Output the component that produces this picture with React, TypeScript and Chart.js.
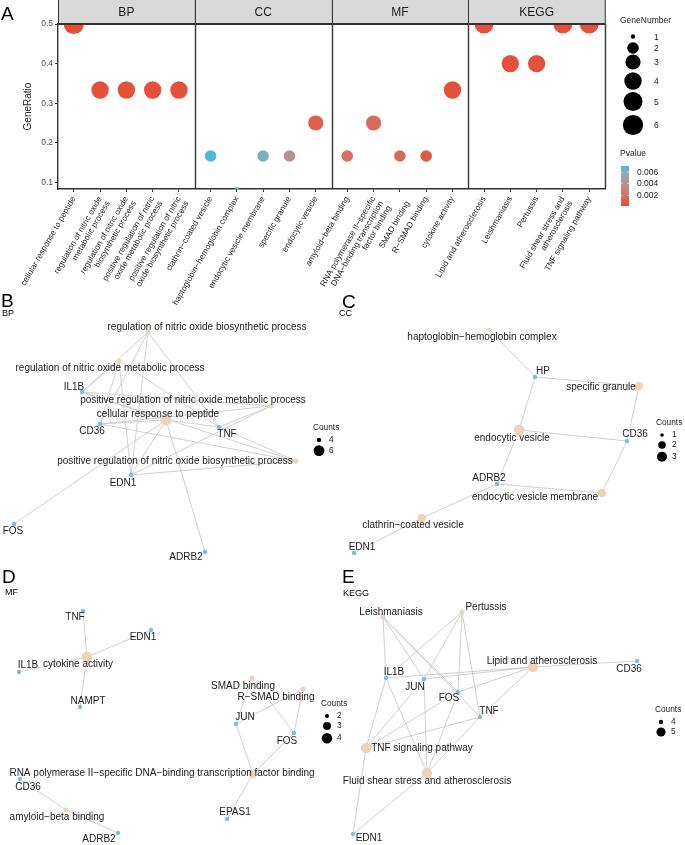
import React, { useEffect, useRef } from "react";
import { Chart, registerables } from "chart.js";
Chart.register(...registerables);

const FONT = "'Liberation Sans', Arial, Helvetica, sans-serif";
const TXT = "#1A1A1A";

// ---------------- Panel A data ----------------
const facetNames = ["BP", "CC", "MF", "KEGG"];
const termLabels: (string | string[])[] = [
  "cellular response to peptide",
  ["regulation of nitric oxide", "metabolic process"],
  ["regulation of nitric oxide", "biosynthetic process"],
  ["positive regulation of nitric", "oxide metabolic process"],
  ["positive regulation of nitric", "oxide biosynthetic process"],
  "clathrin\u2212coated vesicle",
  "haptoglobin\u2212hemoglobin complex",
  "endocytic vesicle membrane",
  "specific granule",
  "endocytic vesicle",
  "amyloid\u2212beta binding",
  ["RNA polymerase II\u2212specific", "DNA\u2212binding transcription", "factor binding"],
  ["", "SMAD binding"],
  "R\u2212SMAD binding",
  "cytokine activity",
  "Lipid and atherosclerosis",
  "Leishmaniasis",
  "Pertussis",
  ["Fluid shear stress and", "atherosclerosis"],
  "TNF signaling pathway",
];
const termFacet = [0, 0, 0, 0, 0, 1, 1, 1, 1, 1, 2, 2, 2, 2, 2, 3, 3, 3, 3, 3];
const geneRatio = [0.5, 0.3333, 0.3333, 0.3333, 0.3333, 0.1667, 0.0833, 0.1667, 0.1667, 0.25, 0.1667, 0.25, 0.1667, 0.1667, 0.3333, 0.5, 0.4, 0.4, 0.5, 0.5];
const geneNumber = [6, 4, 4, 4, 4, 2, 1, 2, 2, 3, 2, 3, 2, 2, 4, 5, 4, 4, 5, 5];
const pValue = [0.0002, 0.0003, 0.0003, 0.0003, 0.0003, 0.0069, 0.0068, 0.006, 0.0041, 0.0011, 0.0018, 0.0017, 0.0017, 0.0007, 0.0003, 0.0003, 0.0003, 0.0003, 0.0003, 0.0003];
const yTicks = [0.1, 0.2, 0.3, 0.4, 0.5];
const sizeLegend = [1, 2, 3, 4, 5, 6];
const pLegend = [0.006, 0.004, 0.002];
const P_MIN = 0.0001;
const P_MAX = 0.007;

const SIZE_R: Record<number, number> = { 1: 2.2, 2: 5.8, 3: 7.6, 4: 8.7, 5: 9.5, 6: 10.1 };
const LOW = [230, 75, 53];
const HIGH = [72, 187, 216];

// Lab interpolation (like ggplot)
function srgb2lin(c: number) { c /= 255; return c <= 0.04045 ? c / 12.92 : Math.pow((c + 0.055) / 1.055, 2.4); }
function lin2srgb(c: number) { const v = c <= 0.0031308 ? 12.92 * c : 1.055 * Math.pow(c, 1 / 2.4) - 0.055; return Math.max(0, Math.min(255, Math.round(v * 255))); }
const WP = [0.95047, 1, 1.08883];
function rgb2lab(rgb: number[]) {
  const [r, g, b] = rgb.map(srgb2lin);
  const X = (0.4124 * r + 0.3576 * g + 0.1805 * b) / WP[0];
  const Y = (0.2126 * r + 0.7152 * g + 0.0722 * b) / WP[1];
  const Z = (0.0193 * r + 0.1192 * g + 0.9505 * b) / WP[2];
  const f = (t: number) => (t > 0.008856 ? Math.cbrt(t) : 7.787 * t + 16 / 116);
  const fx = f(X), fy = f(Y), fz = f(Z);
  return [116 * fy - 16, 500 * (fx - fy), 200 * (fy - fz)];
}
function lab2rgb(lab: number[]) {
  const fy = (lab[0] + 16) / 116, fx = fy + lab[1] / 500, fz = fy - lab[2] / 200;
  const fi = (t: number) => (t > 0.206893 ? t * t * t : (t - 16 / 116) / 7.787);
  const X = fi(fx) * WP[0], Y = fi(fy) * WP[1], Z = fi(fz) * WP[2];
  const r = 3.2406 * X - 1.5372 * Y - 0.4986 * Z;
  const g = -0.9689 * X + 1.8758 * Y + 0.0415 * Z;
  const b = 0.0557 * X - 0.204 * Y + 1.057 * Z;
  return [lin2srgb(r), lin2srgb(g), lin2srgb(b)];
}
const LOW_LAB = rgb2lab(LOW);
const HIGH_LAB = rgb2lab(HIGH);
function pColor(p: number) {
  const t = Math.max(0, Math.min(1, (p - P_MIN) / (P_MAX - P_MIN)));
  const c = lab2rgb(LOW_LAB.map((l, i) => l + (HIGH_LAB[i] - l) * t));
  return `rgb(${c[0]},${c[1]},${c[2]})`;
}
const FACET_W = 5.2;
const termX = termFacet.map((f, i) => f * FACET_W + 0.6 + (i - f * 5));

// ---------------- Network data ----------------
type Net = {
  letter: string;
  sub: string;
  box: [number, number, number, number];
  letterPos: [number, number];
  subPos: [number, number];
  nodes: string[];
  kind: number[];
  nx: number[];
  ny: number[];
  nr: number[];
  lx: number[];
  ly: number[];
  edges: [number, number][];
  counts: number[];
  countR: number[];
  legend: [number, number];
};

const netB: Net = {
  letter: "B",
  sub: "BP",
  box: [0, 288, 360, 275],
  letterPos: [1, 307],
  subPos: [2, 314],
  nodes: [
    "regulation of nitric oxide biosynthetic process",
    "regulation of nitric oxide metabolic process",
    "positive regulation of nitric oxide metabolic process",
    "cellular response to peptide",
    "positive regulation of nitric oxide biosynthetic process",
    "IL1B", "CD36", "TNF", "EDN1", "FOS", "ADRB2",
  ],
  kind: [1, 1, 1, 1, 1, 0, 0, 0, 0, 0, 0],
  nx: [148, 119, 271, 166, 296, 82, 100, 219, 131, 14, 205],
  ny: [332, 361, 406, 420, 461, 392, 424, 427, 475, 524, 552],
  nr: [2.6, 2.6, 2.6, 5.6, 2.6, 2.3, 2.3, 2.3, 2.3, 2.3, 2.3],
  lx: [207, 110, 193, 158, 175, 74, 92, 227, 123, 13, 186],
  ly: [327, 368, 400, 414, 461, 387, 431, 434, 483, 531, 557],
  edges: [
    [0, 5], [0, 6], [0, 7], [0, 8],
    [1, 5], [1, 6], [1, 7], [1, 8],
    [2, 5], [2, 6], [2, 7], [2, 8],
    [4, 5], [4, 6], [4, 7], [4, 8],
    [3, 5], [3, 6], [3, 7], [3, 8], [3, 9], [3, 10],
  ],
  counts: [4, 6],
  countR: [2.2, 5.4],
  legend: [313, 428],
};

const netC: Net = {
  letter: "C",
  sub: "CC",
  box: [330, 288, 355, 275],
  letterPos: [342, 308],
  subPos: [339, 314],
  nodes: [
    "haptoglobin\u2212hemoglobin complex",
    "specific granule",
    "endocytic vesicle",
    "endocytic vesicle membrane",
    "clathrin\u2212coated vesicle",
    "HP", "CD36", "ADRB2", "EDN1",
  ],
  kind: [1, 1, 1, 1, 1, 0, 0, 0, 0],
  nx: [490, 639, 519, 602, 422, 535, 627, 497, 354],
  ny: [330, 386, 430, 493, 518, 377, 441, 484, 553],
  nr: [2.3, 4.2, 5.4, 4.2, 4.2, 2.2, 2.2, 2.2, 2.2],
  lx: [482, 601, 512, 535, 413, 543, 635, 489, 362],
  ly: [337, 387, 438, 497, 525, 371, 434, 478, 547],
  edges: [
    [0, 5], [5, 1], [5, 2], [1, 6], [2, 6], [2, 7], [7, 3], [6, 3], [7, 4], [4, 8],
  ],
  counts: [1, 2, 3],
  countR: [1.8, 3.8, 5.0],
  legend: [656, 423],
};

const netD: Net = {
  letter: "D",
  sub: "MF",
  box: [0, 560, 360, 285],
  letterPos: [2, 583],
  subPos: [5, 593],
  nodes: [
    "cytokine activity",
    "SMAD binding",
    "R\u2212SMAD binding",
    "RNA polymerase II\u2212specific DNA\u2212binding transcription factor binding",
    "amyloid\u2212beta binding",
    "TNF", "EDN1", "IL1B", "NAMPT", "JUN", "FOS", "CD36", "EPAS1", "ADRB2",
  ],
  kind: [1, 1, 1, 1, 1, 0, 0, 0, 0, 0, 0, 0, 0, 0],
  nx: [87, 252, 303, 253, 66, 83, 151, 19, 80, 236, 294, 20, 227, 118],
  ny: [657, 678, 689, 774, 810, 611, 630, 672, 707, 724, 733, 779, 819, 833],
  nr: [5.4, 2.5, 2.5, 4.3, 2.5, 2.2, 2.2, 2.2, 2.2, 2.2, 2.2, 2.2, 2.2, 2.2],
  lx: [78, 243, 276, 162, 57, 75, 143, 28, 88, 245, 287, 28, 235, 99],
  ly: [664, 686, 697, 773, 817, 617, 637, 665, 701, 717, 741, 787, 812, 839],
  edges: [
    [0, 5], [0, 6], [0, 7], [0, 8],
    [1, 9], [1, 10], [2, 9], [2, 10],
    [3, 9], [3, 10], [3, 12],
    [4, 11], [4, 13],
  ],
  counts: [2, 3, 4],
  countR: [2.0, 4.0, 5.2],
  legend: [321, 704],
};

const netE: Net = {
  letter: "E",
  sub: "KEGG",
  box: [330, 560, 355, 285],
  letterPos: [342, 583],
  subPos: [343, 594],
  nodes: [
    "Leishmaniasis",
    "Pertussis",
    "Lipid and atherosclerosis",
    "TNF signaling pathway",
    "Fluid shear stress and atherosclerosis",
    "CD36", "IL1B", "JUN", "FOS", "TNF", "EDN1",
  ],
  kind: [1, 1, 1, 1, 1, 0, 0, 0, 0, 0, 0],
  nx: [383, 462, 533, 366, 427, 637, 386, 424, 458, 480, 353],
  ny: [617, 612, 667, 748, 773, 661, 678, 679, 692, 717, 834],
  nr: [2.6, 2.6, 5.2, 5.2, 5.2, 2.2, 2.2, 2.2, 2.2, 2.2, 2.2],
  lx: [391, 486, 542, 422, 427, 629, 394, 415, 449, 489, 369],
  ly: [612, 607, 661, 748, 781, 669, 672, 687, 698, 711, 838],
  edges: [
    [2, 5], [2, 6], [2, 7], [2, 8], [2, 9],
    [0, 6], [0, 7], [0, 8], [0, 9],
    [1, 6], [1, 7], [1, 8], [1, 9],
    [3, 6], [3, 7], [3, 8], [3, 9], [3, 10],
    [4, 6], [4, 7], [4, 8], [4, 9], [4, 10],
  ],
  counts: [4, 5],
  countR: [2.2, 4.6],
  legend: [655, 710],
};

const nets = [netB, netC, netD, netE];

// ---------------- Panel A chart ----------------
function DotPlot() {
  const ref = useRef<HTMLCanvasElement>(null);
  useEffect(() => {
    const canvas = ref.current!;
    const TOP = 24;
    const stripPlugin = {
      id: "facets",
      afterDatasetsDraw(chart: any) {
        const { ctx, chartArea, scales } = chart;
        const xs = scales.x;
        ctx.save();
        for (let f = 0; f < facetNames.length; f++) {
          const x0 = xs.getPixelForValue(f * FACET_W);
          const x1 = xs.getPixelForValue((f + 1) * FACET_W);
          ctx.fillStyle = "#D9D9D9";
          ctx.fillRect(x0, 0, x1 - x0, chartArea.top);
          ctx.strokeStyle = "#333333";
          ctx.lineWidth = 1;
          ctx.strokeRect(Math.round(x0) + 0.5, -1, x1 - x0, chartArea.top + 1);
          ctx.fillStyle = TXT;
          ctx.font = `12px ${FONT}`;
          ctx.textAlign = "center";
          ctx.textBaseline = "middle";
          ctx.fillText(facetNames[f], (x0 + x1) / 2, chartArea.top / 2 + 1);
        }
        ctx.strokeStyle = "#333333";
        ctx.lineWidth = 1.4;
        for (let f = 1; f <= facetNames.length; f++) {
          const x = Math.round(xs.getPixelForValue(f * FACET_W)) + 0.5;
          ctx.beginPath();
          ctx.moveTo(x, chartArea.top);
          ctx.lineTo(x, chartArea.bottom);
          ctx.stroke();
        }
        ctx.lineWidth = 2;
        ctx.beginPath();
        ctx.moveTo(chartArea.left, chartArea.top);
        ctx.lineTo(chartArea.right, chartArea.top);
        ctx.stroke();

        ctx.fillStyle = "#000";
        ctx.font = `19px ${FONT}`;
        ctx.textAlign = "left";
        ctx.textBaseline = "alphabetic";
        ctx.fillText("A", 1, 20);

        ctx.font = `8.5px ${FONT}`;
        ctx.fillStyle = TXT;
        ctx.textBaseline = "middle";
        ctx.fillText("GeneNumber", 620, 21);
        const sy = [36.5, 48, 62, 81, 101.5, 125];
        sizeLegend.forEach((s, i) => {
          ctx.fillStyle = "#000";
          ctx.beginPath();
          ctx.arc(633, sy[i], SIZE_R[s], 0, Math.PI * 2);
          ctx.fill();
          ctx.fillStyle = TXT;
          ctx.fillText(String(s), 654, sy[i] + 1);
        });
        ctx.fillText("Pvalue", 620, 154);
        const barTop = 166, barBot = 206;
        for (let yy = barTop; yy < barBot; yy++) {
          const p = P_MIN + ((barBot - yy - 0.5) / (barBot - barTop)) * (P_MAX - P_MIN);
          ctx.fillStyle = pColor(p);
          ctx.fillRect(621, yy, 8, 1);
        }
        pLegend.forEach((p) => {
          const y = Math.round(barBot - ((p - P_MIN) / (P_MAX - P_MIN)) * (barBot - barTop)) + 0.5;
          ctx.strokeStyle = "rgba(255,255,255,0.9)";
          ctx.lineWidth = 0.6;
          ctx.beginPath();
          ctx.moveTo(621, y); ctx.lineTo(622.6, y);
          ctx.moveTo(627.4, y); ctx.lineTo(629, y);
          ctx.stroke();
          ctx.fillStyle = TXT;
          ctx.fillText(p.toFixed(3), 637, y);
        });
        ctx.restore();
      },
    };
    const chart = new Chart(canvas, {
      type: "scatter",
      data: {
        datasets: [
          {
            data: termX.map((x, i) => ({ x, y: geneRatio[i] })),
            pointRadius: geneNumber.map((n) => SIZE_R[n]),
            pointHoverRadius: geneNumber.map((n) => SIZE_R[n]),
            backgroundColor: pValue.map(pColor),
            borderWidth: 0,
            clip: 0,
          } as any,
        ],
      },
      options: {
        responsive: false,
        animation: false,
        devicePixelRatio: 1,
        layout: { autoPadding: false, padding: { top: TOP, right: 80, left: 22, bottom: 0 } },
        plugins: { legend: { display: false }, tooltip: { enabled: false } },
        events: [],
        scales: {
          x: {
            type: "linear",
            min: 0,
            max: FACET_W * 4,
            afterBuildTicks: (axis: any) => {
              axis.ticks = termX.map((v) => ({ value: v }));
            },
            afterFit: (s: any) => {
              s.height = 305 - 189;
            },
            ticks: {
              autoSkip: false,
              maxRotation: 60,
              minRotation: 60,
              padding: 3,
              color: TXT,
              font: { family: FONT, size: 8.3, lineHeight: 1.1 },
              callback: (v: any) => {
                const i = termX.findIndex((t) => Math.abs(t - v) < 1e-6);
                return i >= 0 ? termLabels[i] : "";
              },
            },
            grid: { display: true, drawOnChartArea: false, drawTicks: true, tickLength: 3, color: "#333", lineWidth: 1 },
            border: { display: true, color: "#333", width: 1.4 },
          },
          y: {
            type: "linear",
            min: 0.0833,
            max: 0.5,
            afterBuildTicks: (axis: any) => {
              axis.ticks = yTicks.map((v) => ({ value: v }));
            },
            afterFit: (s: any) => {
              s.width = 36;
            },
            ticks: {
              padding: 2,
              color: "#4D4D4D",
              font: { family: FONT, size: 8.5 },
              callback: (v: any) => String(v),
            },
            title: { display: true, text: "GeneRatio", color: TXT, font: { family: FONT, size: 10 }, padding: 0 },
            grid: { display: true, drawOnChartArea: false, drawTicks: true, tickLength: 3, color: "#333", lineWidth: 1 },
            border: { display: true, color: "#333", width: 1.4 },
          },
        },
      },
      plugins: [stripPlugin],
    });
    return () => chart.destroy();
  }, []);
  return <canvas ref={ref} width={685} height={305} style={{ position: "absolute", left: 0, top: 0 }} />;
}

// ---------------- Network chart ----------------
function Network({ net }: { net: Net }) {
  const ref = useRef<HTMLCanvasElement>(null);
  const [x0, y0, w, h] = net.box;
  useEffect(() => {
    const canvas = ref.current!;
    const edgeData: any[] = [];
    net.edges.forEach(([a, b]) => {
      edgeData.push({ x: net.nx[a], y: net.ny[a] });
      edgeData.push({ x: net.nx[b], y: net.ny[b] });
      edgeData.push({ x: null, y: null });
    });
    const labelPlugin = {
      id: "netLabels",
      afterDatasetsDraw(chart: any) {
        const { ctx, scales } = chart;
        const px = (v: number) => scales.x.getPixelForValue(v);
        const py = (v: number) => scales.y.getPixelForValue(v);
        ctx.save();
        ctx.textAlign = "center";
        ctx.textBaseline = "middle";
        ctx.fillStyle = TXT;
        ctx.font = `10px ${FONT}`;
        net.nodes.forEach((n, i) => {
          ctx.fillText(n, px(net.lx[i]), py(net.ly[i]));
        });
        ctx.textAlign = "left";
        ctx.fillStyle = "#000";
        ctx.font = `19px ${FONT}`;
        ctx.textBaseline = "alphabetic";
        ctx.fillText(net.letter, px(net.letterPos[0]), py(net.letterPos[1]));
        ctx.font = `9px ${FONT}`;
        ctx.textBaseline = "middle";
        ctx.fillText(net.sub, px(net.subPos[0]), py(net.subPos[1]));
        const [lx, ly] = net.legend;
        ctx.font = `8.3px ${FONT}`;
        ctx.fillStyle = TXT;
        ctx.fillText("Counts", px(lx), py(ly));
        let yy = ly + 12;
        net.counts.forEach((c, i) => {
          const r = net.countR[i];
          if (i > 0) yy += Math.max(10, net.countR[i - 1] + r + 3);
          ctx.fillStyle = "#000";
          ctx.beginPath();
          ctx.arc(px(lx + 6), py(yy), r, 0, Math.PI * 2);
          ctx.fill();
          ctx.fillStyle = TXT;
          ctx.fillText(String(c), px(lx + 16), py(yy));
        });
        ctx.restore();
      },
    };
    const chart = new Chart(canvas, {
      type: "scatter",
      data: {
        datasets: [
          {
            data: net.nx.map((x, i) => ({ x, y: net.ny[i] })),
            pointRadius: net.nr,
            pointHoverRadius: net.nr,
            backgroundColor: net.kind.map((k) => (k ? "#EBD5B9" : "#82BCDD")),
            borderWidth: 0,
            clip: false,
          } as any,
          {
            data: edgeData,
            showLine: true,
            spanGaps: false,
            borderColor: "#C4C4C4",
            borderWidth: 0.8,
            pointRadius: 0,
            clip: false,
          } as any,
        ],
      },
      options: {
        responsive: false,
        animation: false,
        devicePixelRatio: 1,
        events: [],
        layout: { autoPadding: false, padding: 0 },
        plugins: { legend: { display: false }, tooltip: { enabled: false } },
        scales: {
          x: { type: "linear", display: false, min: x0, max: x0 + w },
          y: { type: "linear", display: false, min: y0, max: y0 + h, reverse: true },
        },
      },
      plugins: [labelPlugin],
    });
    return () => chart.destroy();
  }, [net]);
  return <canvas ref={ref} width={w} height={h} style={{ position: "absolute", left: x0, top: y0 }} />;
}

export default function App() {
  return (
    <div style={{ position: "fixed", left: 0, top: 0, width: 685, height: 845, background: "#fff", overflow: "hidden" }}>
      {nets.map((n) => (
        <Network key={n.letter} net={n} />
      ))}
      <DotPlot />
    </div>
  );
}
